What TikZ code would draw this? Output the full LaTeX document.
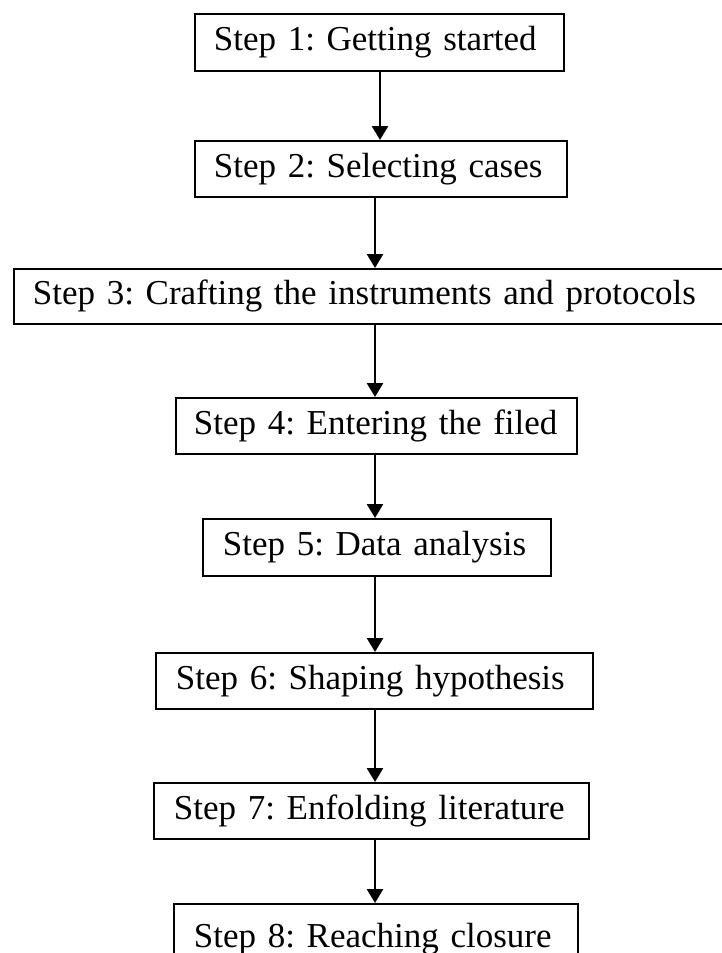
\documentclass[tikz,border=0pt]{standalone}
\usepackage{fontspec}
\setmainfont{Liberation Serif}
\usetikzlibrary{arrows.meta}
\frenchspacing
\tikzset{
  stepbox/.style={draw, line width=1.8pt, anchor=north west, align=left,
    inner ysep=0pt, font=\fontsize{35}{40}\selectfont},
  arr/.style={line width=2.6pt, -{Triangle[width=16pt,length=14pt]}}
}
\begin{document}
\begin{tikzpicture}[x=1pt,y=1pt]
\useasboundingbox (0,0) rectangle (722,-953);
\node[stepbox, inner xsep=19pt, text width=331pt, minimum height=57pt] (b1) at (194,-13) {Step 1: Getting started};
\node[stepbox, inner xsep=19pt, text width=334pt, minimum height=56pt] (b2) at (194,-140) {Step 2: Selecting cases};
\node[stepbox, inner xsep=19pt, text width=689pt, minimum height=55pt] (b3) at (13,-268) {Step 3: Crafting the instruments and protocols};
\node[stepbox, inner xsep=18pt, text width=365pt, minimum height=56pt] (b4) at (175,-397) {Step 4: Entering the filed};
\node[stepbox, inner xsep=20pt, text width=308pt, minimum height=57pt] (b5) at (202,-518) {Step 5: Data analysis};
\node[stepbox, inner xsep=20pt, text width=397pt, minimum height=56pt] (b6) at (155,-652) {Step 6: Shaping hypothesis};
\node[stepbox, inner xsep=20pt, text width=395pt, minimum height=56pt] (b7) at (153,-782) {Step 7: Enfolding literature};
\node[stepbox, inner xsep=20pt, text width=364pt, minimum height=70pt] (b8) at (173,-903) {Step 8: Reaching closure};
\coordinate (xa) at (380,0);
\coordinate (xb) at (375,0);
\draw[arr] (b1.south -| xa) -- (b2.north -| xa);
\draw[arr] (b2.south -| xb) -- (b3.north -| xb);
\draw[arr] (b3.south -| xb) -- (b4.north -| xb);
\draw[arr] (b4.south -| xb) -- (b5.north -| xb);
\draw[arr] (b5.south -| xb) -- (b6.north -| xb);
\draw[arr] (b6.south -| xb) -- (b7.north -| xb);
\draw[arr] (b7.south -| xb) -- (b8.north -| xb);
\end{tikzpicture}
\end{document}
